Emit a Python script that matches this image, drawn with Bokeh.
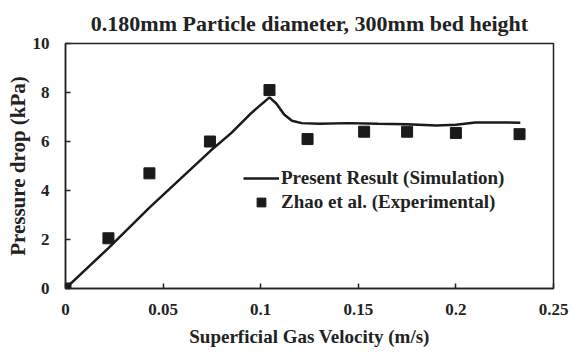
from bokeh.plotting import figure
from bokeh.models import FixedTicker, Legend, LegendItem, Range1d
from bokeh.embed import file_html
from bokeh.resources import INLINE

# Simulated pressure drop along superficial gas velocity
sim_velocity = [0.0, 0.022, 0.043, 0.074, 0.085, 0.095, 0.1045, 0.108, 0.112, 0.116,
                0.121, 0.13, 0.145, 0.16, 0.175, 0.19, 0.2, 0.21, 0.233]
sim_pressure = [0.0, 1.65, 3.3, 5.6, 6.35, 7.15, 7.8, 7.55, 7.1, 6.85,
                6.75, 6.72, 6.75, 6.72, 6.7, 6.65, 6.68, 6.78, 6.77]

# Experimental measurements (Zhao et al.)
exp_velocity = [0.0, 0.022, 0.043, 0.074, 0.1045, 0.124, 0.153, 0.175, 0.2, 0.2326]
exp_pressure = [0.0, 2.05, 4.7, 6.0, 8.1, 6.1, 6.4, 6.4, 6.35, 6.3]

x_ticks = [0, 0.05, 0.1, 0.15, 0.2, 0.25]
x_tick_labels = ["0", "0.05", "0.1", "0.15", "0.2", "0.25"]
y_ticks = [0, 2, 4, 6, 8, 10]

FONT = "Liberation Serif"
INK = "#222222"

p = figure(width=577, height=358, output_backend="svg", toolbar_location=None,
           x_range=Range1d(0, 0.25), y_range=Range1d(0, 10),
           min_border_left=65, min_border_right=24, min_border_bottom=70,
           min_border_top=0)

p.title.text = "0.180mm Particle diameter, 300mm bed height"
p.title.align = "center"
p.title.text_font = FONT
p.title.text_font_style = "bold"
p.title.text_font_size = "22px"
p.title.text_color = INK
p.title.standoff = 16

p.xgrid.visible = False
p.ygrid.visible = False
p.outline_line_color = INK
p.outline_line_width = 1.5

for ax in (p.xaxis[0], p.yaxis[0]):
    ax.axis_line_color = INK
    ax.axis_line_width = 1.5
    ax.major_tick_in = 5
    ax.major_tick_out = 0
    ax.minor_tick_line_color = None
    ax.major_tick_line_color = INK
    ax.major_tick_line_width = 1.5
    ax.major_label_text_font = FONT
    ax.major_label_text_font_style = "bold"
    ax.major_label_text_font_size = "17px"
    ax.major_label_text_color = INK
    ax.axis_label_text_font = FONT
    ax.axis_label_text_font_style = "bold"
    ax.axis_label_text_color = INK

p.xaxis.ticker = FixedTicker(ticks=x_ticks)
p.xaxis.major_label_overrides = {t: l for t, l in zip(x_ticks, x_tick_labels)}
p.xaxis.major_label_standoff = 15
p.xaxis.axis_label = "Superficial Gas Velocity (m/s)"
p.xaxis.axis_label_text_font_size = "19px"
p.xaxis.axis_label_standoff = 8

p.yaxis.ticker = FixedTicker(ticks=y_ticks)
p.yaxis.major_label_standoff = 16
p.yaxis.axis_label = "Pressure drop (kPa)"
p.yaxis.axis_label_text_font_size = "21px"
p.yaxis.axis_label_standoff = 0

sim = p.line(sim_velocity, sim_pressure, line_color="#1a1a1a", line_width=2.5)
exp = p.scatter(exp_velocity, exp_pressure, marker="square", size=11,
                fill_color="#1a1a1a", line_color="#1a1a1a")

legend = Legend(items=[
    LegendItem(label="Present Result (Simulation)", renderers=[sim]),
    LegendItem(label="Zhao et al. (Experimental)", renderers=[exp]),
], location=(178, 75))
legend.background_fill_alpha = 0
legend.border_line_color = None
legend.label_text_font = FONT
legend.label_text_font_style = "bold"
legend.label_text_font_size = "19px"
legend.label_text_color = INK
legend.glyph_width = 36
legend.glyph_height = 22
legend.label_height = 22
legend.label_standoff = 2
legend.spacing = 2
legend.padding = 4
p.add_layout(legend, "center")

open("out.html", "w").write(file_html(p, INLINE))
